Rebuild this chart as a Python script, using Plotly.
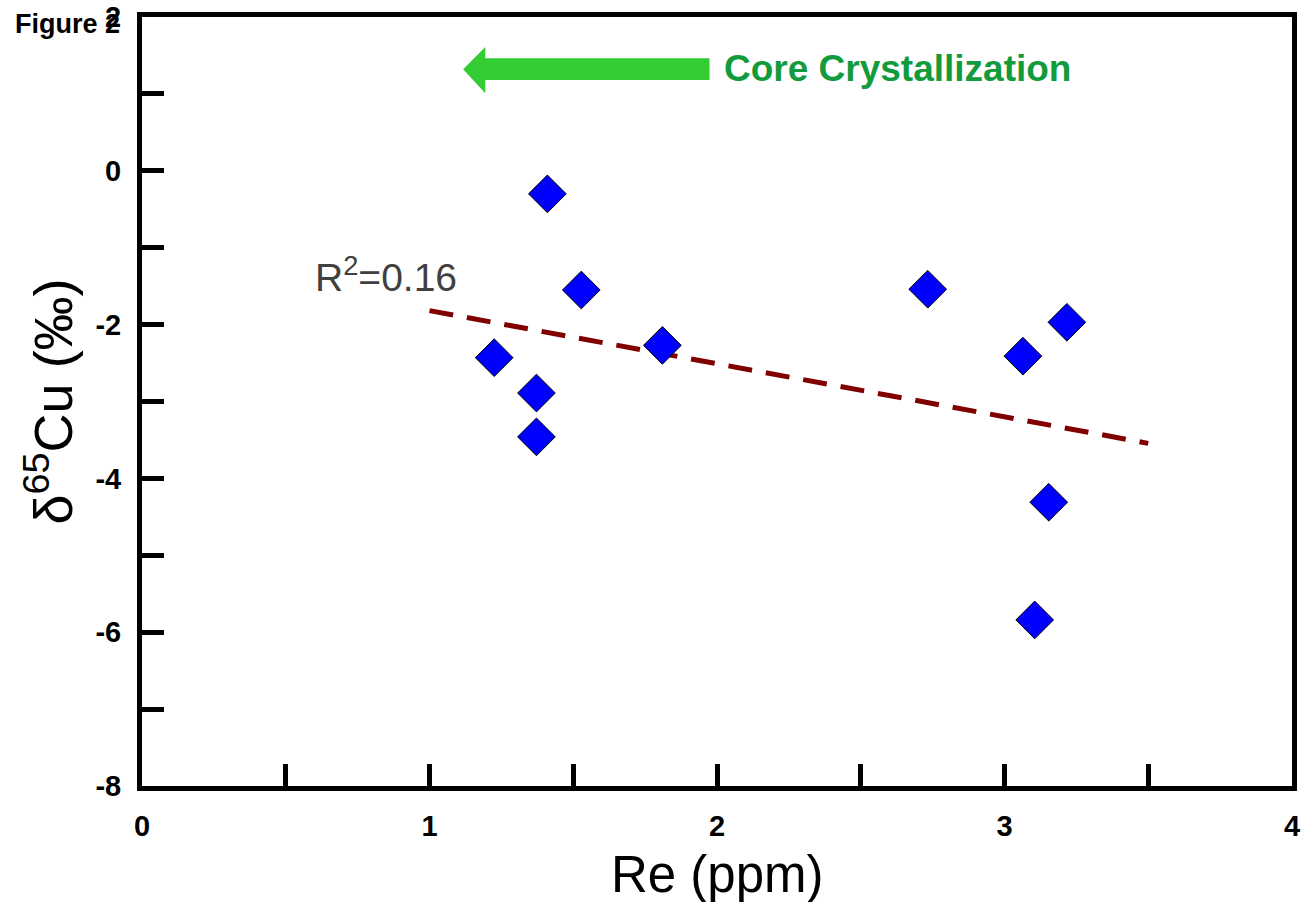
import numpy as np
import plotly.graph_objects as go

# ---- data ----
re_ppm = [1.225, 1.372, 1.372, 1.410, 1.528, 1.810, 2.733, 3.064, 3.217, 3.154, 3.105]
d65cu = [-2.43, -2.89, -3.46, -0.30, -1.55, -2.27, -1.54, -2.41, -1.97, -4.31, -5.84]
trend_range = [1.0, 3.5]
x_ticks = [0, 1, 2, 3, 4]
y_ticks = [-8, -6, -4, -2, 0, 2]

# linear regression trend
slope, intercept = np.polyfit(re_ppm, d65cu, 1)
tx = np.array(trend_range)
ty = slope * tx + intercept
pred = slope * np.array(re_ppm) + intercept
ss_res = np.sum((np.array(d65cu) - pred) ** 2)
ss_tot = np.sum((np.array(d65cu) - np.mean(d65cu)) ** 2)
r2 = 1 - ss_res / ss_tot

FONT = "Liberation Sans, Arial, Helvetica, sans-serif"

fig = go.Figure()
fig.add_trace(go.Scatter(
    x=tx, y=ty, mode="lines",
    line=dict(color="#800000", width=5, dash="24px,14px"),
    hoverinfo="skip", showlegend=False))
fig.add_trace(go.Scatter(
    x=re_ppm, y=d65cu, mode="markers",
    marker=dict(symbol="diamond", size=29, color="#0000FF",
                line=dict(color="black", width=1)),
    showlegend=False))

# arrow (Core Crystallization), in data units
ax_tip, ax_base, ax_end = 1.117, 1.194, 1.974
ay_mid, ay_shaft_hi, ay_shaft_lo, ay_head_hi, ay_head_lo = 1.32, 1.465, 1.18, 1.61, 1.01
path = (f"M {ax_tip},{ay_mid} L {ax_base},{ay_head_hi} L {ax_base},{ay_shaft_hi} "
        f"L {ax_end},{ay_shaft_hi} L {ax_end},{ay_shaft_lo} L {ax_base},{ay_shaft_lo} "
        f"L {ax_base},{ay_head_lo} Z")
fig.add_shape(type="path", path=path, xref="x", yref="y",
              fillcolor="#33CC33", line=dict(width=0), layer="above")

fig.add_annotation(x=2.016, y=1.33, xref="x", yref="y", xanchor="left", yanchor="middle",
                   text="Core Crystallization", showarrow=False,
                   font=dict(family=FONT, size=37, color="#119B3C", weight="bold"))

fig.add_annotation(x=0.85, y=-1.35, xref="x", yref="y", xanchor="center", yanchor="middle",
                   text=f"R<sup>2</sup>={r2:.2f}", showarrow=False,
                   font=dict(family=FONT, size=39, color="#404040"))

fig.add_annotation(x=0, y=1, xref="paper", yref="paper", xanchor="left", yanchor="middle",
                   xshift=-129, yshift=-7, text="<b>Figure 2</b>", showarrow=False,
                   font=dict(family=FONT, size=27, color="black"))

# axis titles
fig.add_annotation(x=0.5, y=0, xref="paper", yref="paper", xanchor="center", yanchor="middle",
                   yshift=-88, text="Re (ppm)", showarrow=False,
                   font=dict(family=FONT, size=51, color="black"))
fig.add_annotation(x=0, y=0.5, xref="paper", yref="paper", xanchor="center", yanchor="middle",
                   xshift=-93, textangle=-90, text="δ<sup>65</sup>Cu (‰)", showarrow=False,
                   font=dict(family=FONT, size=54, color="black"))

axis_common = dict(
    showline=True, linecolor="black", linewidth=5, mirror=True,
    ticks="inside", ticklen=22, tickwidth=5, tickcolor="black",
    showgrid=False, zeroline=False, automargin=False,
    tickfont=dict(family=FONT, size=29, color="black", weight="bold"),
)

fig.update_xaxes(range=[0, 4], tickvals=x_ticks, ticktext=[str(v) for v in x_ticks],
                 minor=dict(ticks="inside", ticklen=22, tickwidth=5, tickcolor="black",
                            dtick=0.5, tick0=0, showgrid=False),
                 ticklabelstandoff=10, **axis_common)
fig.update_yaxes(range=[-8, 2], tickvals=y_ticks, ticktext=[str(v) for v in y_ticks],
                 minor=dict(ticks="inside", ticklen=22, tickwidth=5, tickcolor="black",
                            dtick=1, tick0=0, showgrid=False),
                 ticklabelstandoff=10, **axis_common)

fig.update_layout(
    width=1303, height=902,
    margin=dict(l=142, r=11, t=17, b=116),
    plot_bgcolor="white", paper_bgcolor="white",
    font=dict(family=FONT),
    showlegend=False,
)

fig.write_html("out.html")
